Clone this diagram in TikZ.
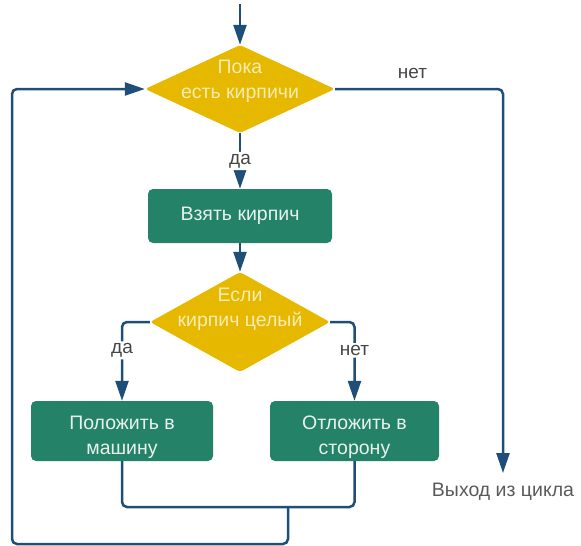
\documentclass[tikz,border=0pt]{standalone}
\usepackage{fontspec}
\setmainfont{Liberation Sans}
\usetikzlibrary{shapes.geometric,arrows.meta,positioning}
\definecolor{lineblue}{RGB}{31,78,121}
\definecolor{boxgreen}{RGB}{36,130,104}
\definecolor{dyellow}{RGB}{230,185,0}
\definecolor{dtext}{RGB}{248,236,180}
\definecolor{btext}{RGB}{232,242,236}
\definecolor{lbl}{RGB}{70,70,70}
\definecolor{exitgray}{RGB}{90,90,90}
\tikzset{
  x=1pt, y=-1pt,
  conn/.style={draw=lineblue, line width=2.5pt, rounded corners=5pt},
  arr/.style={conn, -{Triangle[width=13pt,length=20pt]}},
  decision/.style={diamond, fill=dyellow, inner sep=0pt, rounded corners=3pt},
  procbox/.style={rectangle, fill=boxgreen, rounded corners=5pt, inner sep=0pt},
  dtxt/.style={text=dtext, font=\fontsize{19.5}{25}\selectfont, align=center},
  btxt/.style={text=btext, font=\fontsize{19.5}{25}\selectfont, align=center},
  lbltxt/.style={text=lbl, font=\fontsize{19}{22}\selectfont, fill=white, inner sep=2pt},
}
\begin{document}
\begin{tikzpicture}
\useasboundingbox (0,0) rectangle (581,546);
% nodes
\node[decision, minimum width=190pt, minimum height=88pt] (d1) at (240,89) {};
\node[dtxt] (d1t) at (240,81) {Пока\\есть кирпичи};
\node[procbox, minimum width=184pt, minimum height=54pt] (b1) at (240,216) {};
\node[btxt] (b1t) at (240,216) {Взять кирпич};
\node[decision, minimum width=180pt, minimum height=100pt] (d2) at (240,322) {};
\node[dtxt] (d2t) at (240,309) {Если\\кирпич целый};
\node[procbox, minimum width=182pt, minimum height=60pt] (b2) at (122,431) {};
\node[btxt] (b2t) at (122,437) {Положить в\\машину};
\node[procbox, minimum width=169pt, minimum height=60pt] (b3) at (354.5,431) {};
\node[btxt] (b3t) at (354.5,437) {Отложить в\\сторону};
\node[text=exitgray, font=\fontsize{19.5}{22}\selectfont] (exitt) at (503,492) {Выход из цикла};
\coordinate (start) at (240,4);
\coordinate (exit) at (503,473);
\coordinate (m) at (288,507);
\coordinate (lb) at (12,544);
% connectors
\draw[arr] (start) -- (d1.north);
\draw[arr] (d1.east) -| node[pos=0.23, above=7pt, lbltxt, fill=none] {нет} (exit);
\draw[arr] (d1.south) -- node[lbltxt] {да} (b1.north);
\draw[arr] (b1.south) -- (d2.north);
\draw[arr] (d2.west) -| node[pos=0.68, lbltxt] {да} (b2.north);
\draw[arr] (d2.east) -| node[pos=0.68, lbltxt] {нет} (b3.north);
\draw[conn] (b2.south) |- (m) -| (b3.south);
\draw[arr] (m) |- (lb) |- (d1.west);
\end{tikzpicture}
\end{document}
